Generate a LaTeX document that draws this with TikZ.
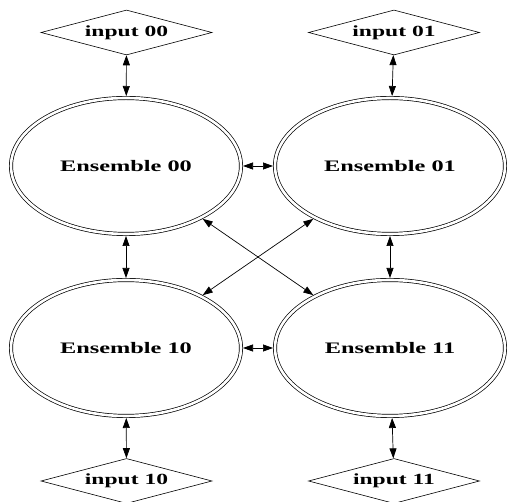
\documentclass[tikz,border=0pt]{standalone}
\usepackage{fontspec}
\usepackage{graphicx}
\setmainfont{Liberation Serif}
\usetikzlibrary{shapes.geometric,arrows.meta}
\tikzset{
  ens/.style={ellipse, draw=black, line width=0.7pt, double=white, double distance=2.6pt,
    minimum width=230pt, minimum height=136pt, inner sep=0pt, outer sep=2pt,
    font=\fontsize{16}{18}\selectfont\bfseries},
  inp/.style={diamond, draw=black, line width=0.6pt, minimum width=171pt, minimum height=45pt,
    inner sep=0pt, aspect=3.8, font=\fontsize{15.5}{18}\selectfont\bfseries},
  link/.style={line width=0.7pt, {Triangle[length=10pt,width=7pt]}-{Triangle[length=10pt,width=7pt]}}
}
\newcommand{\wide}[1]{\scalebox{1.52}[1]{#1}}
\begin{document}
\begin{tikzpicture}[x=1pt,y=-1pt]
\useasboundingbox (0,0) rectangle (507,502);
\node[inp] (i00) at (126.5,32.5) {\wide{input 00}};
\node[inp] (i01) at (394,32.5) {\wide{input 01}};
\node[inp] (i10) at (126.5,481) {\wide{input 10}};
\node[inp] (i11) at (394,481) {\wide{input 11}};
\node[ens] (e00) at (126,166) {\wide{Ensemble 00}};
\node[ens] (e01) at (390,166) {\wide{Ensemble 01}};
\node[ens] (e10) at (126,348) {\wide{Ensemble 10}};
\node[ens] (e11) at (390,348) {\wide{Ensemble 11}};
\draw[link] (i00) -- (e00);
\draw[link] (i01) -- (e01);
\draw[link] (e10) -- (i10);
\draw[link] (e11) -- (i11);
\draw[link] (e00) -- (e10);
\draw[link] (e01) -- (e11);
\draw[link] (e00) -- (e01);
\draw[link] (e10) -- (e11);
\draw[link] (e00) -- (e11);
\draw[link] (e10) -- (e01);
\end{tikzpicture}
\end{document}
